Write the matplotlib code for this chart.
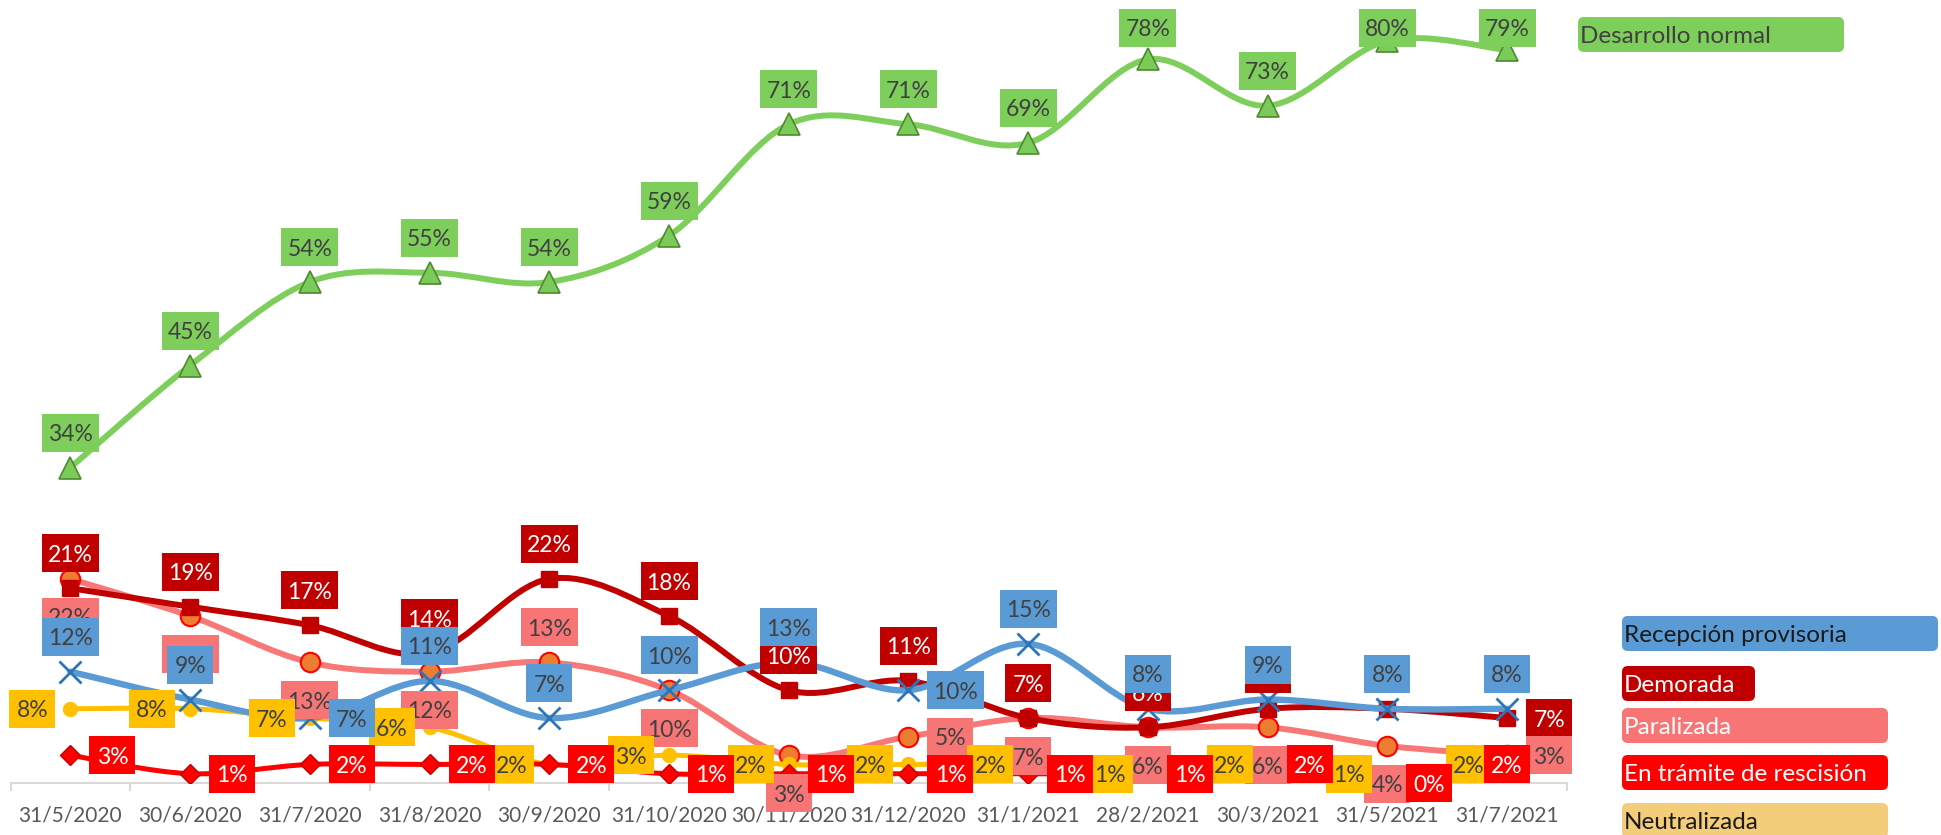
import matplotlib
matplotlib.use("Agg")
import matplotlib.pyplot as plt
from matplotlib.path import Path
from matplotlib.patches import PathPatch, FancyBboxPatch, Rectangle
from matplotlib.transforms import IdentityTransform
import numpy as np

plt.rcParams['font.family'] = ['Lato', 'DejaVu Sans']

# -------------------------------------------------------
# Datos

fechas = ['31/5/2020', '30/6/2020', '31/7/2020', '31/8/2020', '30/9/2020',
          '31/10/2020', '30/11/2020', '31/12/2020', '31/1/2021', '28/2/2021',
          '30/3/2021', '31/5/2021', '31/7/2021']

desarrollo_normal = [34, 45, 54, 55, 54, 59, 71, 71, 69, 78, 73, 80, 79]
recepcion_provisoria = [12, 9, 7, 11, 7, 10, 13, 10, 15, 8, 9, 8, 8]
demorada = [21, 19, 17, 14, 22, 18, 10, 11, 7, 6, 8, 8, 7]
paralizada = [22, 18, 13, 12, 13, 10, 3, 5, 7, 6, 6, 4, 3]
en_tramite = [3, 1, 2, 2, 2, 1, 1, 1, 1, 1, 2, 0, 2]
neutralizada = [8, 8, 7, 6, 2, 3, 2, 2, 2, 1, 2, 1, 2]

# posicion de cada etiqueta: a=arriba, b=abajo, d=derecha, i=izquierda, c=centro
pos_desarrollo = ['a'] * 13
pos_recepcion = ['a', 'a', 'd', 'a', 'a', 'a', 'a', 'd', 'a', 'a', 'a', 'a', 'a']
pos_demorada = ['a'] * 12 + ['d']
pos_paralizada = ['b', 'b', 'b', 'b', 'a', 'b', 'b', 'd', 'b', 'b', 'b', 'b', 'd']
pos_tramite = ['d'] * 12 + ['c']
pos_neutralizada = ['i'] * 13

W, H = 1941, 835
fig = plt.figure(figsize=(W / 100, H / 100), dpi=100)
ax = fig.add_axes([10.5 / W, 52 / H, 1556.5 / W, 783 / H])
ax.set_xlim(-0.5, len(fechas) - 0.5)
ax.set_ylim(0, 84.4)

x = np.arange(len(fechas))
TXT = '#404040'


def curva(ys, color, lw, z):
    # linea suavizada tipo Excel (Bezier Catmull-Rom)
    y = np.asarray(ys, float)
    px = np.concatenate([[x[0]], x, [x[-1]]]).astype(float)
    py = np.concatenate([[y[0]], y, [y[-1]]])
    verts = [(x[0], y[0])]
    codes = [Path.MOVETO]
    for i in range(len(x) - 1):
        c1 = (x[i] + (px[i + 2] - px[i]) / 6, y[i] + (py[i + 2] - py[i]) / 6)
        c2 = (x[i + 1] - (px[i + 3] - px[i + 1]) / 6, y[i + 1] - (py[i + 3] - py[i + 1]) / 6)
        verts += [c1, c2, (x[i + 1], y[i + 1])]
        codes += [Path.CURVE4] * 3
    ax.add_patch(PathPatch(Path(verts, codes), fill=False, edgecolor=color, lw=lw,
                           capstyle='round', joinstyle='round', zorder=z))


def etiquetas(ys, pos, fondo, color_txt, z):
    # cajas de etiqueta en pixeles, encima de todas las lineas
    for i, v in enumerate(ys):
        xd, yd = ax.transData.transform((i, v))
        txt = f'{v}%'
        w = 46 if len(txt) == 2 else 57
        h = 38
        p = pos[i]
        if p == 'a':
            cx, cy = xd, min(yd + 35, H - 28)
        elif p == 'b':
            cx, cy = xd, yd - 38
        elif p == 'd':
            cx, cy = xd + 19 + w / 2, yd
        elif p == 'i':
            cx, cy = xd - 15 - w / 2, yd
        else:
            cx, cy = xd, yd
        fig.add_artist(Rectangle((cx - w / 2, cy - h / 2), w, h, transform=IdentityTransform(),
                                 fc=fondo, ec='none', zorder=z))
        fig.text(cx, cy - 2, txt, transform=IdentityTransform(), ha='center', va='center',
                 fontsize=16.5, color=color_txt, zorder=z + 0.5)


# lineas y marcadores
curva(desarrollo_normal, '#7ECE5C', 4.3, 2)
ax.plot(x, desarrollo_normal, ls='none', marker='^', ms=16, mfc='#7ACB5A',
        mec='#4E8A2E', mew=1.2, zorder=3)

curva(paralizada, '#F87878', 4.3, 4)
ax.plot(x, paralizada, ls='none', marker='o', ms=14, mfc='#ED7D31',
        mec='#FF0000', mew=1.5, zorder=5)

curva(demorada, '#C00000', 4.3, 6)
ax.plot(x, demorada, ls='none', marker='s', ms=12, mfc='#C00000',
        mec='#C00000', zorder=7)

curva(neutralizada, '#FFC000', 3.6, 8)
ax.plot(x, neutralizada, ls='none', marker='o', ms=10, mfc='#FFC000',
        mec='#FFC000', zorder=9)

curva(en_tramite, '#FF0000', 3.6, 10)
ax.plot(x, en_tramite, ls='none', marker='D', ms=10, mfc='#FF0000',
        mec='#C00000', mew=1, zorder=11)

curva(recepcion_provisoria, '#5B9BD5', 4.6, 12)
ax.plot(x, recepcion_provisoria, ls='none', marker='x', ms=16, mec='#2E75B6',
        mew=2, zorder=13)

# etiquetas de datos
etiquetas(desarrollo_normal, pos_desarrollo, '#7ECE5C', TXT, 20)
etiquetas(demorada, pos_demorada, '#C00000', 'white', 21)
etiquetas(paralizada, pos_paralizada, '#F87575', TXT, 22)
etiquetas(neutralizada, pos_neutralizada, '#FFC000', TXT, 23)
etiquetas(en_tramite, pos_tramite, '#FF0000', 'white', 24)
etiquetas(recepcion_provisoria, pos_recepcion, '#5B9BD5', TXT, 25)

# ejes
for s in ['left', 'top', 'right']:
    ax.spines[s].set_visible(False)
ax.spines['bottom'].set_color('#D9D9D9')
ax.spines['bottom'].set_linewidth(1.5)
ax.set_yticks([])
ax.set_xticks(x)
ax.set_xticklabels(fechas, fontsize=15, color='#595959')
ax.tick_params(axis='x', which='major', length=0, pad=16)
ax.set_xticks(np.arange(-0.5, len(fechas)), minor=True)
ax.tick_params(axis='x', which='minor', length=6, width=1.5, color='#D9D9D9')

# leyenda en cajas
leyenda = [('Desarrollo normal', '#7ECE5C', TXT, 1578, 17, 266, 35),
           ('Recepción provisoria', '#5B9BD5', '#1A1A1A', 1622, 616, 316, 35),
           ('Demorada', '#C00000', 'white', 1622, 666, 133, 35),
           ('Paralizada', '#F87575', 'white', 1622, 708, 266, 35),
           ('En trámite de rescisión', '#FF0000', 'white', 1622, 755, 266, 35),
           ('Neutralizada', '#F4CD7A', '#1A1A1A', 1622, 803, 266, 35)]
for texto, fc, tc, lx, ly, lw_, lh in leyenda:
    caja = FancyBboxPatch((lx / W, 1 - (ly + lh) / H), lw_ / W, lh / H,
                          boxstyle='round,pad=0,rounding_size=0.003',
                          transform=fig.transFigure, fc=fc, ec='none',
                          mutation_aspect=W / H, clip_on=False)
    fig.patches.append(caja)
    fig.text((lx + 2) / W, 1 - (ly + lh / 2) / H - 2 / H, texto, fontsize=17.5,
             color=tc, ha='left', va='center')

fig.savefig('out.png', dpi=100)
